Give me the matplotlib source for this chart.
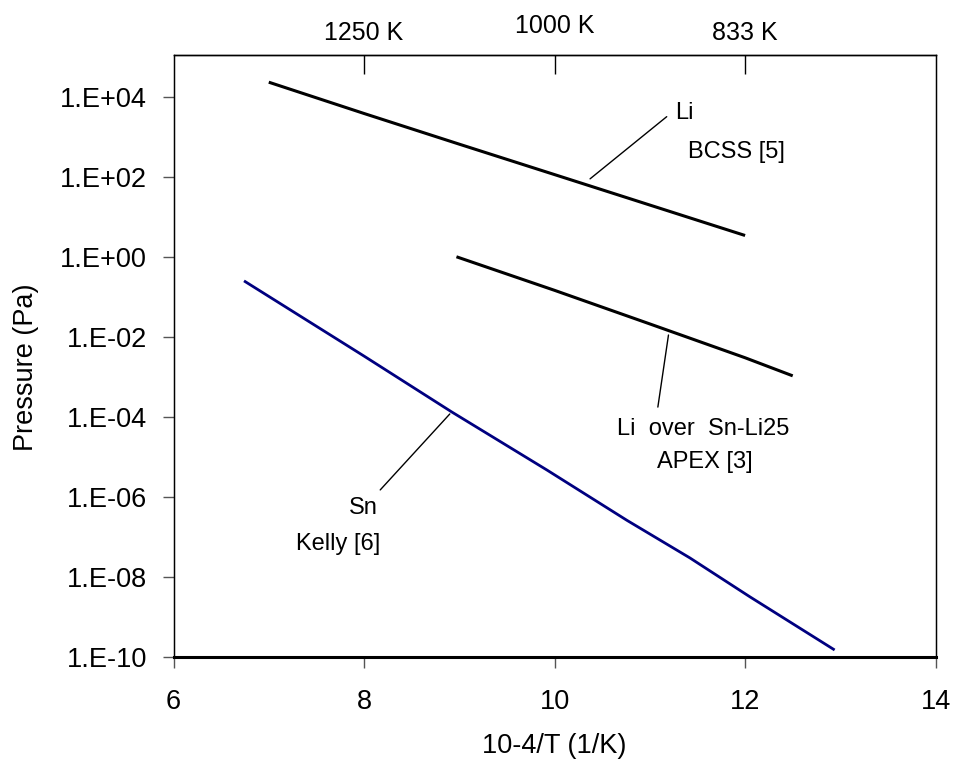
import numpy as np
import matplotlib
matplotlib.use("Agg")
import matplotlib.pyplot as plt
from matplotlib.ticker import FixedLocator, FuncFormatter, NullLocator

plt.rcParams["font.family"] = ["Liberation Sans", "DejaVu Sans"]

# inverse temperature, 10^4/T (1/K)
li_bcss_x = [7.0, 8.0, 9.0, 10.0, 11.0, 12.0]
li_bcss_p = [2.3e4, 3.8e3, 6.5e2, 1.13e2, 1.96e1, 3.4]

li_snli_x = [8.97, 10.0, 11.0, 12.0, 12.5]
li_snli_p = [1.0, 1.45e-1, 2.1e-2, 3.0e-3, 1.06e-3]

sn_x = [6.74, 8.0, 8.92, 9.92, 10.76, 11.42, 12.05, 12.94]
sn_p = [2.5e-1, 3.3e-3, 1.33e-4, 4.7e-6, 2.6e-7, 3.0e-8, 3.2e-9, 1.5e-10]

y_ticks = [1e-10, 1e-8, 1e-6, 1e-4, 1e-2, 1e0, 1e2, 1e4]
x_ticks = [6, 8, 10, 12, 14]
top_ticks = [8, 10, 12]
top_labels = ["1250 K", "1000 K", "833 K"]


def sci_label(v, pos):
    exp = int(round(np.log10(v)))
    return f"1.E{exp:+03d}"


fig = plt.figure(figsize=(9.55, 7.69), dpi=100)
ax = fig.add_axes([0.1817, 0.1456, 0.798, 0.7829])

ax.plot(li_bcss_x, li_bcss_p, color="black", lw=2.2, solid_capstyle="butt")
ax.plot(li_snli_x, li_snli_p, color="black", lw=2.2, solid_capstyle="butt")
ax.plot(sn_x, sn_p, color="#000080", lw=2.0, solid_capstyle="butt")

ax.set_yscale("log")
ax.set_xlim(6, 14)
ax.set_ylim(1e-10, 1.1e5)
ax.yaxis.set_major_locator(FixedLocator(y_ticks))
ax.yaxis.set_minor_locator(NullLocator())
ax.yaxis.set_major_formatter(FuncFormatter(sci_label))
ax.set_xticks(x_ticks)

ax.tick_params(axis="y", direction="out", length=8, width=1, color="#555555",
               labelsize=19.5, pad=11)
ax.tick_params(axis="x", direction="out", length=8, width=1, color="#555555",
               labelsize=19.5, pad=15)
for side in ["left", "top", "right"]:
    ax.spines[side].set_linewidth(1.0)
ax.spines["bottom"].set_linewidth(2.2)

ax.set_xlabel("10-4/T (1/K)", fontsize=19.5, labelpad=13)
ax.set_ylabel("Pressure (Pa)", fontsize=19.5)
ax.yaxis.set_label_coords(-0.176, 0.482)

top = ax.twiny()
top.set_xlim(ax.get_xlim())
top.set_xticks(top_ticks)
top.set_xticklabels(top_labels)
top.tick_params(axis="x", direction="in", length=14, width=1, color="black",
                labelsize=18, pad=7)
top.spines["top"].set_linewidth(1.0)
top.xaxis.get_major_ticks()[1].set_pad(12)

# leader lines and labels
ax.annotate("", xy=(10.35, 80), xytext=(11.2, 3.5e3),
            arrowprops=dict(arrowstyle="-", color="black", lw=1))
ax.text(11.27, 4.0e3, "Li", fontsize=17, ha="left", va="center")
ax.text(11.40, 4.2e2, "BCSS [5]", fontsize=17, ha="left", va="center")

ax.annotate("", xy=(11.2, 1.3e-2), xytext=(11.08, 1.5e-4),
            arrowprops=dict(arrowstyle="-", color="black", lw=1))
ax.text(11.56, 5.0e-5, "Li  over  Sn-Li25", fontsize=17, ha="center", va="center")
ax.text(11.58, 7.5e-6, "APEX [3]", fontsize=17, ha="center", va="center")

ax.annotate("", xy=(8.92, 1.33e-4), xytext=(8.15, 1.33e-6),
            arrowprops=dict(arrowstyle="-", color="black", lw=1))
ax.text(7.99, 5.3e-7, "Sn", fontsize=17, ha="center", va="center")
ax.text(7.73, 6.7e-8, "Kelly [6]", fontsize=17, ha="center", va="center")

fig.savefig("out.png", dpi=100)
